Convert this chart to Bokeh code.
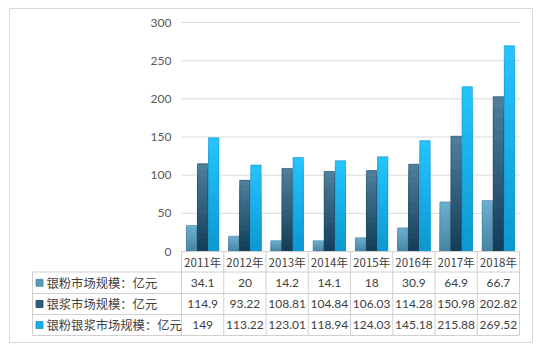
from bokeh.plotting import figure
from bokeh.models import Range1d
from bokeh.core.properties import value
from bokeh.embed import file_html
from bokeh.resources import INLINE

# ---------------- data ----------------
years = ["2011年", "2012年", "2013年", "2014年", "2015年", "2016年", "2017年", "2018年"]
silver_powder = [34.1, 20, 14.2, 14.1, 18, 30.9, 64.9, 66.7]
silver_paste = [114.9, 93.22, 108.81, 104.84, 106.03, 114.28, 150.98, 202.82]
powder_and_paste = [149, 113.22, 123.01, 118.94, 124.03, 145.18, 215.88, 269.52]
series_names = ["银粉市场规模：亿元", "银浆市场规模：亿元", "银粉银浆市场规模：亿元"]
y_ticks = [0, 50, 100, 150, 200, 250, 300]

series_values = [silver_powder, silver_paste, powder_and_paste]

# ---------------- style ----------------
top_colors = ["#6db0d0", "#4f809f", "#26c5ff"]
bottom_colors = ["#4783a2", "#113d58", "#0c97d0"]
edge_colors = ["#4c83a0", "#1c465e", "#1596c9"]
mid_colors = ["#5a9aba", "#2f5f7e", "#18b0ec"]
grid_color = "#d9d9d9"
text_color = "#404040"

# ---------------- layout (pixels) ----------------
W, H = 550, 351
FR_L, FR_T, FR_R, FR_B = 9, 8, 532, 342
PLOT_L = 181.0
CAT_W = 42.25
ZERO_Y = 251.0
PX_PER_UNIT = 229.0 / 300.0
TABLE_L = 32.0
ROW_EDGES_PX = [251.0, 271.5, 293.0, 314.0, 335.0]


def px_x(px):
    return (px - PLOT_L) / CAT_W


def px_y(py):
    return (ZERO_Y - py) / PX_PER_UNIT


def mix(c1, c2, t):
    a = [int(c1[i:i + 2], 16) for i in (1, 3, 5)]
    b = [int(c2[i:i + 2], 16) for i in (1, 3, 5)]
    return "#%02x%02x%02x" % tuple(round(a[j] + (b[j] - a[j]) * t) for j in range(3))


n = len(years)
p = figure(
    width=W, height=H,
    x_range=Range1d(px_x(FR_L), px_x(FR_R)),
    y_range=Range1d(px_y(FR_B), px_y(FR_T)),
    x_axis_type=None, y_axis_type=None,
    output_backend="svg", toolbar_location=None,
    min_border_left=FR_L, min_border_top=FR_T,
    min_border_right=W - FR_R, min_border_bottom=H - FR_B,
)
p.grid.visible = False
p.outline_line_color = grid_color
p.outline_line_width = 1
p.background_fill_color = "white"
p.border_fill_color = "white"

# gridlines
gt = [t for t in y_ticks]
p.segment(x0=[0] * len(gt), x1=[n] * len(gt), y0=gt, y1=gt,
          line_color=grid_color, line_width=1)

# y tick labels
p.text(x=[px_x(171)] * len(y_ticks), y=y_ticks, text=[str(t) for t in y_ticks],
       text_align="right", text_baseline="middle",
       text_font=value("Lato"), text_font_size="12px", text_color="#595959")

# bars with vertical gradient
offsets = [-0.262, 0.0, 0.262]
bar_w = 0.245
K = 14
for s, vals in enumerate(series_values):
    xs = [i + 0.5 + offsets[s] for i in range(n)]
    for k in range(K):
        frac = (K - k) / K
        col = mix(bottom_colors[s], top_colors[s], (K - k - 0.5) / K)
        p.vbar(x=xs, width=bar_w, bottom=0, top=[v * frac for v in vals],
               fill_color=col, line_color=None)
    p.vbar(x=xs, width=bar_w, bottom=0, top=vals, fill_color=None,
           line_color=edge_colors[s], line_width=0.8, line_alpha=0.8)

# table lines
row_edges = [px_y(r) for r in ROW_EDGES_PX]
p.segment(x0=[0], x1=[n], y0=[row_edges[0]], y1=[row_edges[0]],
          line_color="#d0d0d0", line_width=1)
p.segment(x0=[px_x(TABLE_L)] * 4, x1=[n] * 4, y0=row_edges[1:], y1=row_edges[1:],
          line_color="#d0d0d0", line_width=1)
p.segment(x0=list(range(n + 1)), x1=list(range(n + 1)),
          y0=[row_edges[0]] * (n + 1), y1=[row_edges[-1]] * (n + 1),
          line_color="#d0d0d0", line_width=1)
p.segment(x0=[px_x(TABLE_L)], x1=[px_x(TABLE_L)], y0=[row_edges[1]], y1=[row_edges[-1]],
          line_color="#d0d0d0", line_width=1)

row_centers = [(row_edges[i] + row_edges[i + 1]) / 2 for i in range(4)]

# header (years)
p.text(x=[i + 0.5 for i in range(n)], y=[row_centers[0]] * n, text=years,
       text_align="center", text_baseline="middle",
       text_font=value("Noto Sans CJK SC"), text_font_size="11.5px", text_color=text_color)

# value rows
for s, vals in enumerate(series_values):
    p.text(x=[i + 0.5 for i in range(n)], y=[row_centers[s + 1]] * n,
           text=[f"{v:g}" for v in vals],
           text_align="center", text_baseline="middle",
           text_font=value("Lato"), text_font_size="12px", text_color=text_color)

# legend keys and names
p.scatter(x=[px_x(39)] * 3, y=row_centers[1:], marker="square", size=7,
          fill_color=mid_colors, line_color=edge_colors, line_width=0.8)
p.text(x=[px_x(46)] * 3, y=row_centers[1:], text=series_names,
       text_align="left", text_baseline="middle",
       text_font=value("Noto Sans CJK SC"), text_font_size="12.3px", text_color=text_color)

open("out.html", "w").write(file_html(p, INLINE))
